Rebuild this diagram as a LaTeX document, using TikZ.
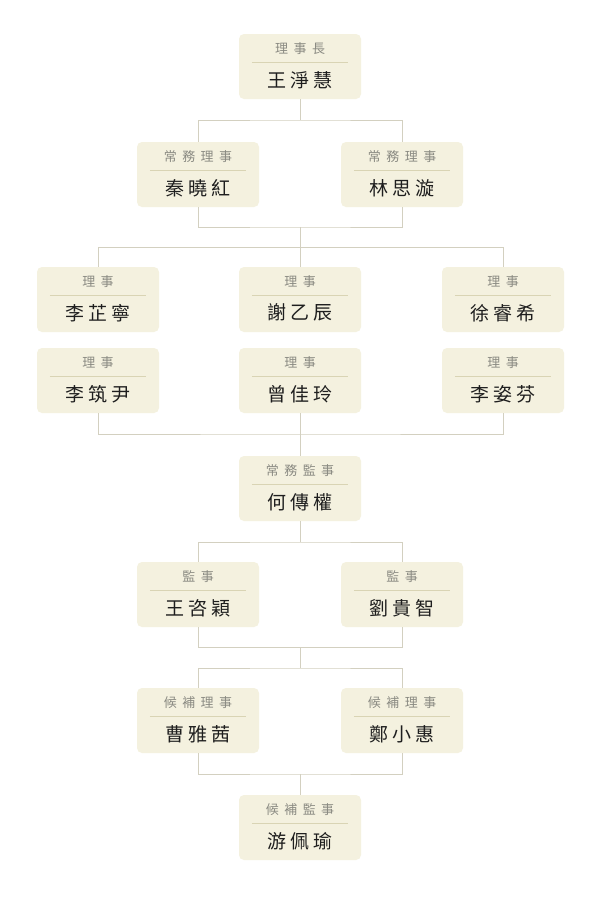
\documentclass[tikz,border=0pt]{standalone}
\usepackage{fontspec}
\setmainfont{Noto Sans CJK TC}
\usetikzlibrary{calc}
\definecolor{boxfill}{HTML}{F4F1DF}
\definecolor{connline}{HTML}{D3D0C0}
\definecolor{sepcol}{HTML}{D9D4B4}
\definecolor{roletext}{HTML}{8A8A82}
\definecolor{nametext}{HTML}{1E1E1E}
\newcommand{\tsp}{\hspace{5.5pt}}
\newcommand{\nsp}{\hspace{4.5pt}}
\tikzset{
  orgbox/.style={fill=boxfill, draw=none, rounded corners=5pt, minimum width=122pt, minimum height=65pt, inner sep=0pt},
  rolelabel/.style={text=roletext, font=\fontsize{13}{15}\selectfont, inner sep=0pt},
  namelabel/.style={text=nametext, font=\fontsize{19}{22}\selectfont, inner sep=0pt},
  sepline/.style={draw=sepcol, line width=0.8pt},
  conn/.style={draw=connline, line width=1pt}
}
\newcommand{\orgbox}[5]{%
  \node[orgbox] (#1) at (#2,#3) {};
  \node[rolelabel] (#1-t) at ([yshift=-15pt]#1.north) {#4};
  \draw[sepline] ([xshift=13pt,yshift=-28.5pt]#1.north west) -- ([xshift=-13pt,yshift=-28.5pt]#1.north east);
  \node[namelabel] (#1-n) at ([yshift=-46pt]#1.north) {#5};
}
\begin{document}
\begin{tikzpicture}[x=1pt,y=-1pt]
\fill[white] (0,0) rectangle (600,900);
\useasboundingbox (0,0) rectangle (600,900);
% junction coordinates
\coordinate (j1) at (300,120);
\coordinate (j2) at (300,227);
\coordinate (j3) at (300,247.5);
\coordinate (j4) at (300,434);
\coordinate (j5) at (300,542);
\coordinate (j6) at (300,647.5);
\coordinate (j7) at (300,668);
\coordinate (j8) at (300,774);
% boxes
\orgbox{b1}{300}{66.5}{理\tsp 事\tsp 長}{王\nsp 淨\nsp 慧}
\orgbox{b2a}{198}{174.5}{常\tsp 務\tsp 理\tsp 事}{秦\nsp 曉\nsp 紅}
\orgbox{b2b}{402}{174.5}{常\tsp 務\tsp 理\tsp 事}{林\nsp 思\nsp 漩}
\orgbox{b3a}{98}{299.5}{理\tsp 事}{李\nsp 芷\nsp 寧}
\orgbox{b3b}{300}{299.5}{理\tsp 事}{謝\nsp 乙\nsp 辰}
\orgbox{b3c}{503}{299.5}{理\tsp 事}{徐\nsp 睿\nsp 希}
\orgbox{b4a}{98}{380.5}{理\tsp 事}{李\nsp 筑\nsp 尹}
\orgbox{b4b}{300}{380.5}{理\tsp 事}{曾\nsp 佳\nsp 玲}
\orgbox{b4c}{503}{380.5}{理\tsp 事}{李\nsp 姿\nsp 芬}
\orgbox{b5}{300}{488.5}{常\tsp 務\tsp 監\tsp 事}{何\nsp 傳\nsp 權}
\orgbox{b6a}{198}{594.5}{監\tsp 事}{王\nsp 咨\nsp 穎}
\orgbox{b6b}{402}{594.5}{監\tsp 事}{劉\nsp 貴\nsp 智}
\orgbox{b7a}{198}{720.5}{候\tsp 補\tsp 理\tsp 事}{曹\nsp 雅\nsp 茜}
\orgbox{b7b}{402}{720.5}{候\tsp 補\tsp 理\tsp 事}{鄭\nsp 小\nsp 惠}
\orgbox{b8}{300}{827.5}{候\tsp 補\tsp 監\tsp 事}{游\nsp 佩\nsp 瑜}
% connectors
\draw[conn] (b1.south) -- (j1);
\draw[conn] (b2a.north) |- (j1) -| (b2b.north);
\draw[conn] (b2a.south) |- (j2) -| (b2b.south);
\draw[conn] (j2) -- (j3);
\draw[conn] (b3a.north) |- (j3) -| (b3c.north);
\draw[conn] (j3) -- (b3b.north);
\draw[conn] (b4a.south) |- (j4) -| (b4c.south);
\draw[conn] (b4b.south) -- (b5.north);
\draw[conn] (b5.south) -- (j5);
\draw[conn] (b6a.north) |- (j5) -| (b6b.north);
\draw[conn] (b6a.south) |- (j6) -| (b6b.south);
\draw[conn] (j6) -- (j7);
\draw[conn] (b7a.north) |- (j7) -| (b7b.north);
\draw[conn] (b7a.south) |- (j8) -| (b7b.south);
\draw[conn] (j8) -- (b8.north);
\end{tikzpicture}
\end{document}
